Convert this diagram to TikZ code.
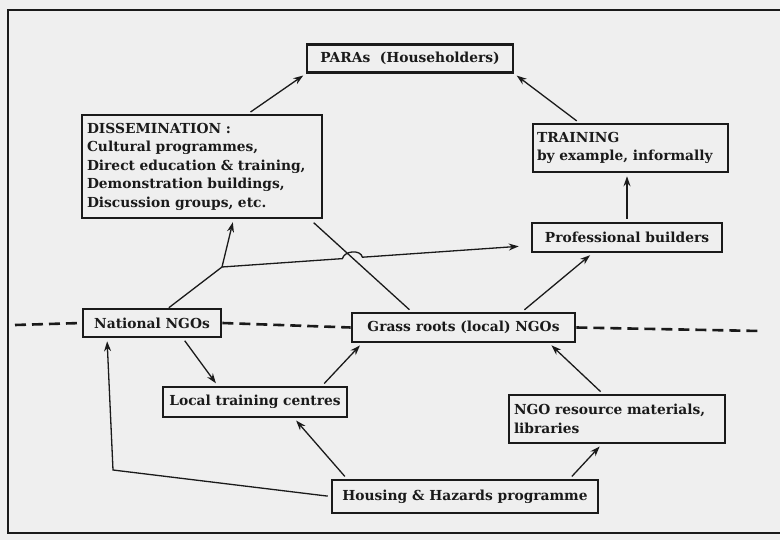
\documentclass[tikz,border=0pt]{standalone}
\usepackage{fontspec}
\setmainfont{DejaVu Serif}
\usepackage{xcolor}
\usetikzlibrary{positioning, calc, arrows.meta}
\definecolor{paper}{HTML}{EFEFEF}
\definecolor{ink}{HTML}{1A1A1A}

\tikzset{
  box/.style={rectangle, draw=ink, line width=2.6pt, inner sep=4pt, text=ink,
              font=\bfseries\fontsize{13.8}{18.5}\selectfont},
  link/.style={-{Stealth[length=10pt, width=7pt]}, draw=ink, line width=1.3pt,
               shorten <=3pt, shorten >=3pt},
  plain/.style={draw=ink, line width=1.3pt},
  split/.style={draw=ink, line width=2.6pt, dash pattern=on 11pt off 6pt}
}

\begin{document}
\begin{tikzpicture}[x=1pt, y=-1pt]
  \useasboundingbox[fill=paper] (0,0) rectangle (780,540);
  % frame, open on the right
  \draw[ink, line width=2pt] (780,10) -- (8,10) -- (8,533) -- (780,533);

  \node[box, minimum width=206pt, minimum height=28pt] (paras) at (410,58.5) {PARAs \ (Householders)};
  \node[box, text width=230pt, minimum height=103pt, align=left, inner sep=5pt] (diss) at (202,166.5)
    {DISSEMINATION :\\Cultural programmes,\\Direct education \& training,\\Demonstration buildings,\\Discussion groups, etc.};
  \node[box, text width=187pt, minimum height=48pt, align=left] (train) at (630.5,148) {TRAINING\\by example, informally};
  \node[box, minimum width=190pt, minimum height=29pt] (pro) at (627,237.5) {Professional builders};
  \node[box, minimum width=138pt, minimum height=28pt] (natl) at (152,323) {National NGOs};
  \node[box, minimum width=223pt, minimum height=29pt] (grass) at (463.5,327.5) {Grass roots (local) NGOs};
  \node[box, minimum width=184pt, minimum height=30pt] (local) at (255,402) {Local training centres};
  \node[box, text width=206pt, minimum height=48pt, align=left, inner sep=5pt] (res) at (617,419) {NGO resource materials,\\libraries};
  \node[box, minimum width=266pt, minimum height=33pt] (hh) at (465,496.5) {Housing \& Hazards programme};

  % dashed divide
  \coordinate (divL) at (15,325);
  \coordinate (divR) at (760,331);
  \draw[split] (divL) -- (natl.west);
  \draw[split] (natl.east) -- (grass.west);
  \draw[split] (grass.east) -- (divR);

  % upper half
  \draw[link] ($(diss.north west)!0.69!(diss.north east)$) -- (paras.south west);
  \draw[link] ($(train.north west)!0.24!(train.north east)$) -- (paras.south east);
  \draw[link] (pro.north) -- (pro.north |- train.south);

  \coordinate (fork) at (222,267);
  \coordinate (proIn) at ($(pro.west)+(0,8)$);
  \draw[plain] ($(natl.north west)!0.62!(natl.north east)$) -- (fork);
  \draw[link, shorten <=0pt] (fork) -- ($(diss.south west)!0.63!(diss.south east)$);
  \draw[link, shorten <=0pt, shorten >=12pt] (fork) -- ($(fork)!0.39!(proIn)$)
    .. controls +(2,-8) and +(-2,-8) .. ($(fork)!0.455!(proIn)$) -- (proIn);
  \draw[plain, shorten <=5pt, shorten >=3pt] ($(diss.south west)!0.945!(diss.south east)$)
    -- ($(grass.north west)!0.27!(grass.north east)$);
  \draw[link] ($(grass.north west)!0.76!(grass.north east)$) -- ($(pro.south west)!0.32!(pro.south east)$);

  % lower half
  \draw[link] ($(natl.south west)!0.72!(natl.south east)$) -- ($(local.north west)!0.30!(local.north east)$);
  \draw[link] ($(local.north west)!0.86!(local.north east)$) -- ($(grass.south west)!0.05!(grass.south east)$);
  \draw[link] ($(res.north west)!0.435!(res.north east)$) -- ($(grass.south west)!0.88!(grass.south east)$);
  \draw[link] ($(hh.north west)!0.06!(hh.north east)$) -- ($(local.south west)!0.71!(local.south east)$);
  \draw[link] ($(hh.north west)!0.89!(hh.north east)$) -- ($(res.south west)!0.43!(res.south east)$);
  \coordinate (hhBend) at (113,470);
  \draw[link] (hh.west) -- (hhBend) -- ($(natl.south west)!0.18!(natl.south east)$);
\end{tikzpicture}
\end{document}
